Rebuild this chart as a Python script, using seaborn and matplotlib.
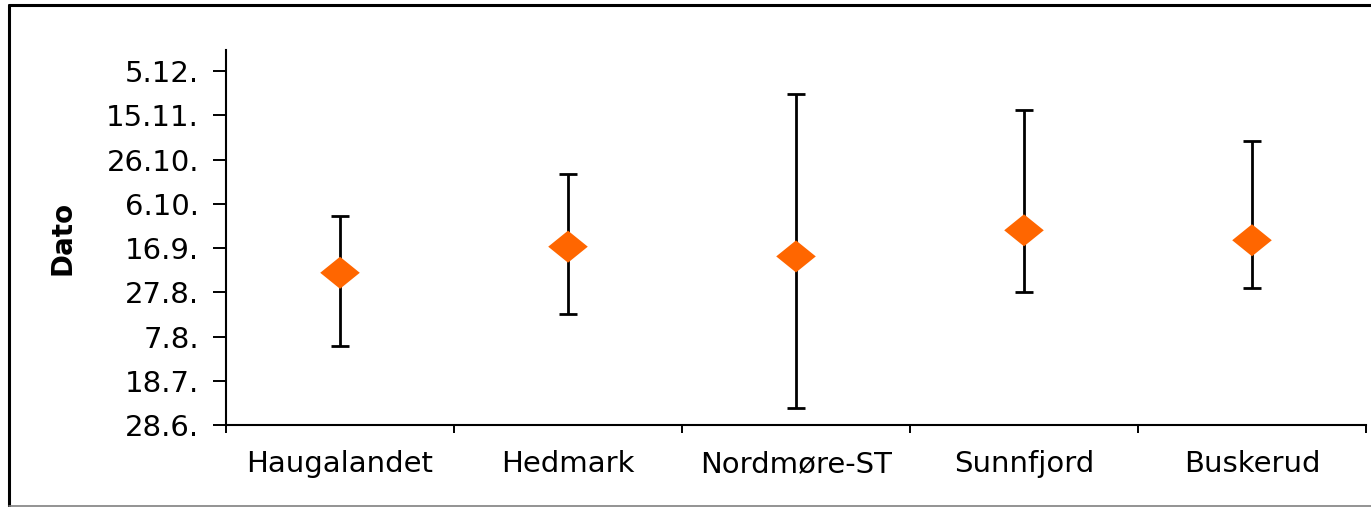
import numpy as np
import pandas as pd
import matplotlib
matplotlib.use("Agg")
import matplotlib.pyplot as plt
from matplotlib.lines import Line2D
import seaborn as sns

# ---- data (days after 28 June) ----
regions = ["Haugalandet", "Hedmark", "Nordmøre-ST", "Sunnfjord", "Buskerud"]
mid_day = [68.8, 80.6, 76.2, 88.0, 83.5]
low_day = [35.6, 50.0, 7.5, 60.0, 61.8]
high_day = [94.5, 113.3, 149.5, 142.2, 128.5]
tick_days = [0, 20, 40, 60, 80, 100, 120, 140, 160]
tick_labels = ["28.6.", "18.7.", "7.8.", "27.8.", "16.9.", "6.10.", "26.10.", "15.11.", "5.12."]

df = pd.DataFrame({"region": regions, "mid": mid_day, "low": low_day, "high": high_day})

sns.set_style("white")
plt.rcParams["font.family"] = ["DejaVu Sans"]
plt.rcParams["text.color"] = "black"
plt.rcParams["axes.labelcolor"] = "black"
plt.rcParams["xtick.color"] = "black"
plt.rcParams["ytick.color"] = "black"

W, H = 1371, 507
fig = plt.figure(figsize=(W / 100, H / 100), dpi=100)
ax = fig.add_axes([226 / W, 1 - 425 / H, (1366 - 226) / W, (425 - 50) / H])

orange = "#FF6600"
diamond = [(-1.236, 0), (0, 1), (1.236, 0), (0, -1), (-1.236, 0)]

sns.scatterplot(data=df, x="region", y="mid", ax=ax, marker=diamond, s=28.5 ** 2,
                color=orange, edgecolor="none", linewidth=0, zorder=4, legend=False)

yerr = np.vstack([df["mid"] - df["low"], df["high"] - df["mid"]])
ax.errorbar(np.arange(len(regions)), df["mid"], yerr=yerr, fmt="none", ecolor="black",
            elinewidth=2.0, capsize=6.3, capthick=2.0, zorder=3)

ax.set_xlim(-0.5, len(regions) - 0.5)
ax.set_ylim(0, 169.5)

ax.set_yticks(tick_days)
ax.set_yticklabels(tick_labels)
ax.set_xticks(np.arange(len(regions)))
ax.set_xticklabels(regions)
ax.set_xticks(np.arange(len(regions) + 1) - 0.5, minor=True)

ax.tick_params(axis="y", which="major", direction="out", length=9.4, width=1.4,
               color="black", labelcolor="black", labelsize=21, pad=10, left=True)
ax.tick_params(axis="x", which="major", length=0, labelsize=21, labelcolor="black", pad=18)
ax.tick_params(axis="x", which="minor", direction="out", length=5.5, width=1.4,
               color="black", bottom=True)

ax.set_xlabel("")
ax.set_ylabel("Dato", fontsize=20, fontweight="bold", color="black")
ax.yaxis.set_label_coords(-0.131, 0.5)

for side in ["top", "right"]:
    ax.spines[side].set_visible(False)
for side in ["left", "bottom"]:
    ax.spines[side].set_color("black")
    ax.spines[side].set_linewidth(1.5)

# outer chart frame
fig.add_artist(Line2D([8.5 / W, 8.5 / W], [1 - 5 / H, 1 - 506 / H], transform=fig.transFigure,
                      color="black", linewidth=2.2))
fig.add_artist(Line2D([8.5 / W, 1.0], [1 - 5 / H, 1 - 5 / H], transform=fig.transFigure,
                      color="black", linewidth=2.2))
fig.add_artist(Line2D([8.5 / W, 1.0], [1 - 506 / H, 1 - 506 / H], transform=fig.transFigure,
                      color="#808080", linewidth=1.2))

fig.savefig("out.png", dpi=100, facecolor="white")
